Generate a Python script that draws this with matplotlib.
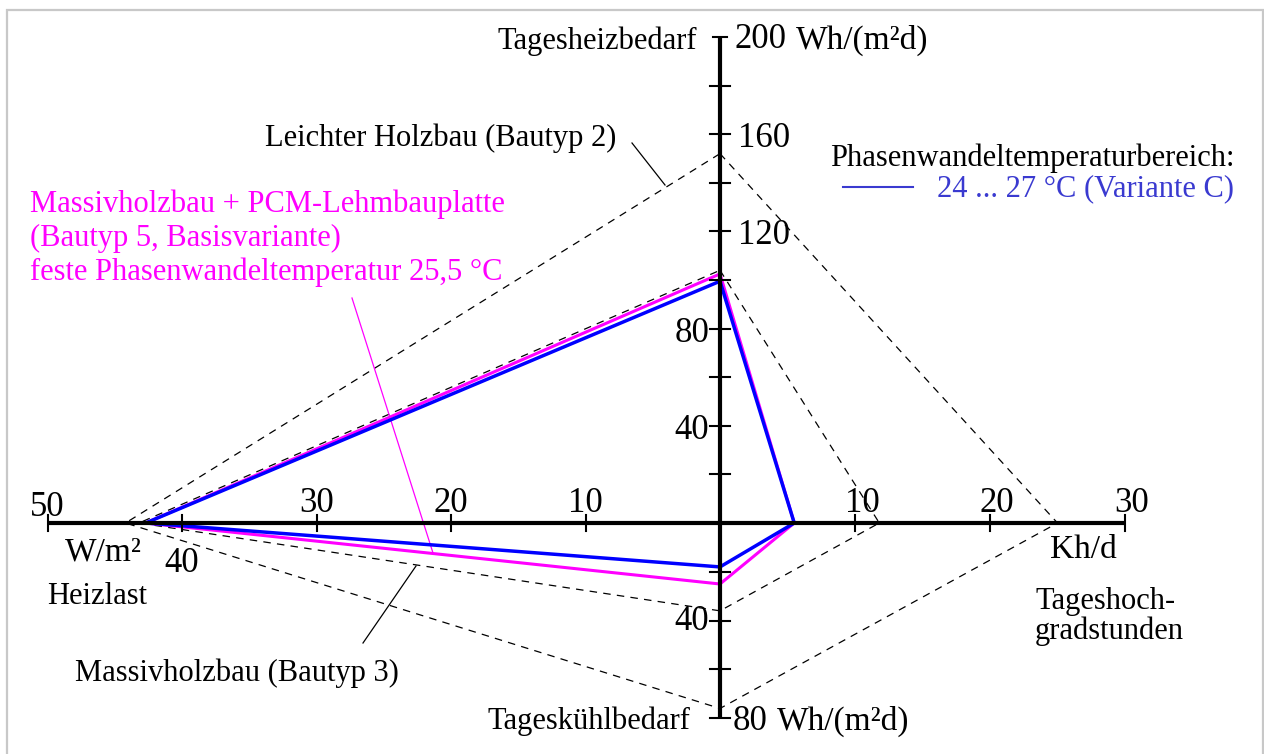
import matplotlib
matplotlib.use("Agg")
import matplotlib.pyplot as plt
from matplotlib.patches import Rectangle

# ---------------- data ----------------
axes_names = ["Tagesheizbedarf", "Tageshochgradstunden", "Tageskühlbedarf", "Heizlast"]
axis_max = [200, 30, 80, 50]
leichter_holzbau = [152, 25, 76, 44.2]        # Bautyp 2
massivholzbau = [104, 11.8, 36, 43.2]         # Bautyp 3
pcm_basis = [102.5, 5.5, 25, 42.7]            # Bautyp 5, Basisvariante
variante_c = [99.5, 5.5, 18, 42.7]            # 24 ... 27 °C

top_ticks = [20, 40, 60, 80, 100, 120, 140, 160, 180, 200]
top_labels = {40: "left", 80: "left", 120: "right", 160: "right"}
right_ticks = [10, 20, 30]
bottom_ticks = [20, 40, 60, 80]
left_ticks = [10, 20, 30, 40, 50]
left_labels = [10, 20, 30, 50]

# ---------------- geometry (pixels per unit) ----------------
W, H = 1264, 754
OX, OY = 720, 523
s_top, s_right, s_bottom, s_left = 2.43, 13.5, 2.44, 13.45
DIRS = [(0, 1, s_top), (1, 0, s_right), (0, -1, s_bottom), (-1, 0, s_left)]


def pt(i, v):
    dx, dy, s = DIRS[i]
    return dx * v * s, dy * v * s


def P(px, py):
    return px - OX, OY - py


plt.rcParams['font.family'] = ['Liberation Serif', 'DejaVu Serif']
fig = plt.figure(figsize=(W / 100, H / 100), dpi=100)
ax = fig.add_axes([0, 0, 1, 1])
ax.set_xlim(-OX, W - OX)
ax.set_ylim(-(H - OY), OY)
ax.axis("off")

fig.patches.append(Rectangle((6.5 / W, -0.01), (1262.5 - 6.5) / W, 1 - 10 / H + 0.01,
                             transform=fig.transFigure, fill=False,
                             edgecolor="#c8c8c8", linewidth=1.6))


def poly(vals, **kw):
    xs, ys = [], []
    for i, v in enumerate(vals + [vals[0]]):
        x, y = pt(i % 4, v)
        xs.append(x)
        ys.append(y)
    ax.plot(xs, ys, **kw)


# axes lines
x0, _ = pt(3, 50)
x1, _ = pt(1, 30)
ax.plot([x0, x1], [0, 0], color="black", lw=3, solid_capstyle="butt", zorder=5)
_, y0 = pt(2, 80)
_, y1 = pt(0, 200)
ax.plot([0, 0], [y0, y1], color="black", lw=3, solid_capstyle="butt", zorder=5)

TL = 10
for t in top_ticks:
    _, y = pt(0, t)
    ax.plot([-TL if t != 200 else -7, TL if t != 200 else 7], [y, y], color="black", lw=1.5, zorder=5)
for t in bottom_ticks:
    _, y = pt(2, t)
    ax.plot([-TL, TL], [y, y], color="black", lw=1.5, zorder=5)
for t in left_ticks:
    x, _ = pt(3, t)
    ax.plot([x, x], [-8, 8], color="black", lw=1.5, zorder=5)
for t in right_ticks:
    x, _ = pt(1, t)
    ax.plot([x, x], [-8, 8], color="black", lw=1.5, zorder=5)

# polygons
dash = dict(color="black", lw=0.9, linestyle=(0, (6, 5)))
poly(leichter_holzbau, **dash)
poly(massivholzbau, **dash)
poly(pcm_basis, color="#ff00ff", lw=2.2, zorder=3)
poly(variante_c, color="#0000ff", lw=2.5, zorder=4)

FS = 22
FN = 25
txt = dict(fontsize=FS, color="black", va="center")
num = dict(fontsize=FN, color="black", va="center")

# top axis labels
for t, side in top_labels.items():
    _, y = pt(0, t)
    if side == "left":
        ax.text(-11, y - 5, str(t), ha="right", **num)
    else:
        ax.text(18, y - 4, str(t), ha="left", **num)
_, y = pt(0, 200)
ax.text(15, y - 3, "200", ha="left", **num)
ax.text(76, y - 3, "Wh/(m²d)", ha="left", fontsize=24, color="black", va="center")
ax.text(*P(697, 41), axes_names[0], ha="right", **txt)

# bottom axis labels
_, y = pt(2, 40)
ax.text(-11, y - 1, "40", ha="right", **num)
_, y = pt(2, 80)
ax.text(13, y - 3, "80", ha="left", **num)
ax.text(57, y - 3, "Wh/(m²d)", ha="left", fontsize=24, color="black", va="center")
ax.text(*P(690, 721), axes_names[2], ha="right", **txt)

# left axis labels
for t in left_labels:
    x, _ = pt(3, t)
    ax.text(x, 20 if t != 50 else 15, str(t), ha="center", **num)
x, _ = pt(3, 40)
ax.text(x, -40, "40", ha="center", **num)
ax.text(*P(65, 552), "W/m²", ha="left", fontsize=24, color="black", va="center")
ax.text(*P(47, 597), axes_names[3], ha="left", **txt)

# right axis labels
for t in right_ticks:
    x, _ = pt(1, t)
    ax.text(x + 7, 19, str(t), ha="center", **num)
ax.text(*P(1050, 550), "Kh/d", ha="left", fontsize=24, color="black", va="center")
ax.text(*P(1035, 601), "Tageshoch-", ha="left", **txt)
ax.text(*P(1035, 631), "gradstunden", ha="left", **txt)

# annotations
ax.text(*P(265, 138), "Leichter Holzbau (Bautyp 2)", ha="left", **txt)
ax.plot(*zip(P(632, 143), P(665, 185)), color="black", lw=0.9)

mag = dict(fontsize=FS, color="#ff00ff", va="center", ha="left")
ax.text(*P(30, 204), "Massivholzbau + PCM-Lehmbauplatte", **mag)
ax.text(*P(30, 238), "(Bautyp 5, Basisvariante)", **mag)
ax.text(*P(30, 272), "feste Phasenwandeltemperatur 25,5 °C", **mag)
ax.plot(*zip(P(352, 298), P(433, 553)), color="#ff00ff", lw=0.9)

ax.text(*P(75, 673), "Massivholzbau (Bautyp 3)", ha="left", **txt)
ax.plot(*zip(P(363, 643), P(416, 566)), color="black", lw=0.9)

ax.text(*P(830, 158), "Phasenwandeltemperaturbereich:", ha="left", **txt)
ax.plot(*zip(P(843, 187), P(913, 187)), color="#3a3ad0", lw=1.5)
ax.text(*P(937, 189), "24 ... 27 °C (Variante C)", ha="left",
        fontsize=FS, color="#3a3ad0", va="center")

fig.savefig("out.png", dpi=100)
